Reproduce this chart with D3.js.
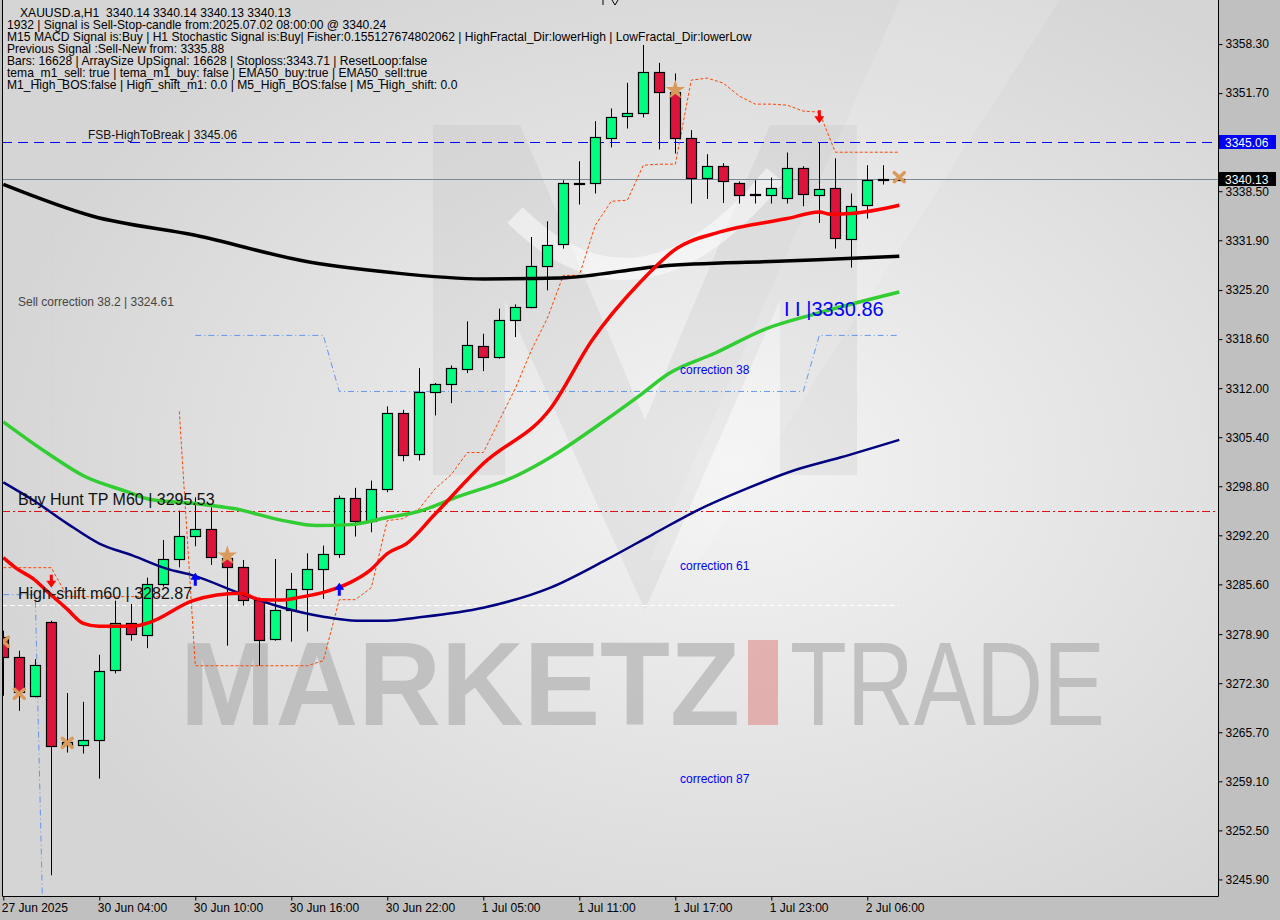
<!DOCTYPE html>
<html>
<head>
<meta charset="utf-8">
<script src="https://cdnjs.cloudflare.com/ajax/libs/d3/7.8.5/d3.min.js"></script>
<style>
  html, body { margin: 0; padding: 0; background: #c0c0c0; }
  svg { display: block; }
  text { font-family: "Liberation Sans", Arial, sans-serif; }
</style>
</head>
<body>
<svg id="chart" width="1280" height="920"></svg>
<script>
// XAUUSD.a H1
var barOpen = [3278.46,3275.77,3270.57,3280.54,3264.01,3263.97,3264.64,3274.07,3280.41,3278.78,
  3285.66,3289.02,3292.12,3293.07,3289.16,3287.99,3283.50,3278.25,3282.15,3284.98,
  3287.68,3289.70,3297.24,3294.18,3298.45,3308.69,3303.17,3311.56,3312.60,3314.62,
  3317.72,3316.23,3321.22,3322.97,3328.49,3331.32,3339.54,3339.54,3345.73,3348.51,
  3348.97,3354.49,3351.79,3345.60,3340.16,3341.83,3339.67,3338.10,3338.06,3337.52,
  3341.56,3338.06,3338.99,3332.13,3336.57,3340.05,3340.14];
var barHigh = [3279.37,3276.67,3275.55,3280.71,3270.98,3269.80,3276.13,3283.41,3282.96,3286.51,
  3291.58,3295.53,3297.32,3295.98,3290.41,3288.88,3283.81,3289.02,3287.14,3289.78,
  3290.82,3297.55,3298.59,3299.57,3309.54,3309.09,3314.70,3312.70,3315.06,3320.99,
  3319.33,3322.70,3323.28,3332.34,3334.46,3339.98,3342.54,3347.93,3349.64,3353.09,
  3358.17,3355.78,3354.35,3346.72,3343.48,3342.27,3339.81,3339.98,3340.34,3343.71,
  3341.87,3345.06,3342.94,3338.19,3342.00,3342.00,3340.14];
var barLow = [3270.61,3268.59,3270.39,3246.46,3262.97,3262.84,3259.47,3273.62,3278.02,3277.01,
  3285.30,3287.89,3290.72,3288.21,3277.35,3282.73,3274.65,3278.02,3277.89,3279.27,
  3283.64,3289.16,3292.03,3292.61,3298.00,3302.17,3302.27,3308.33,3309.98,3314.02,
  3314.29,3315.96,3318.87,3322.74,3325.16,3330.78,3336.71,3338.19,3344.39,3346.94,
  3348.43,3344.12,3343.58,3336.84,3337.46,3336.92,3336.84,3336.84,3336.84,3336.84,
  3336.48,3334.23,3330.78,3328.22,3334.82,3339.40,3340.13];
var barClose = [3275.77,3271.01,3274.75,3263.84,3264.42,3264.64,3273.94,3280.41,3278.92,3285.66,
  3289.02,3292.12,3293.07,3289.33,3287.99,3283.50,3278.11,3282.15,3284.98,3287.68,
  3289.70,3297.24,3294.09,3298.45,3308.69,3303.03,3311.47,3312.60,3314.75,3317.85,
  3316.23,3321.22,3322.97,3328.49,3331.32,3339.54,3339.44,3345.73,3348.51,3348.97,
  3354.49,3351.79,3345.60,3340.21,3341.83,3339.81,3338.06,3338.00,3338.99,3341.56,
  3338.06,3338.86,3332.26,3336.57,3340.00,3340.14,3340.13];

var xTickIdx = [0, 6, 12, 18, 24, 30, 36, 42, 48, 54];
var xTickLabels = ["27 Jun 2025", "30 Jun 04:00", "30 Jun 10:00", "30 Jun 16:00", "30 Jun 22:00",
  "1 Jul 05:00", "1 Jul 11:00", "1 Jul 17:00", "1 Jul 23:00", "2 Jul 06:00"];
var yTickValues = [3358.30, 3351.70, 3338.50, 3331.90, 3325.20, 3318.60, 3312.00, 3305.40, 3298.80,
  3292.20, 3285.60, 3278.90, 3272.30, 3265.70, 3259.10, 3252.50, 3245.90];

// moving averages, [bar, price]
var maBlack = [[0,3339.42],[5.6,3335.13],[12,3332.57],[19.2,3328.94],[24.1,3327.59],[30,3326.70],
  [34.8,3326.83],[41.1,3328.42],[48.4,3329.07],[56,3329.74]];
var maRed = [[0,3289.2],[0.84,3287.72],[1.86,3286.37],[2.9,3284.35],[3.96,3282.33],[5,3280.35],
  [6,3279.95],[7.1,3279.95],[8.1,3279.95],[9.2,3280.52],[11.9,3283.44],[14.8,3284.39],[16.1,3283.54],
  [17.5,3283.50],[18.5,3283.85],[20,3284.53],[21.7,3285.87],[22.9,3287.45],[24,3289.74],[25.2,3291.09],
  [26.9,3294.86],[30,3301.86],[34.2,3309.27],[36.8,3318.46],[39.7,3326.01],[42.1,3330.82],
  [44.8,3333.02],[49,3334.82],[51,3335.71],[51.7,3335.40],[53,3335.50],[56,3336.61]];
var maGreen = [[0,3307.47],[2.7,3303.34],[5.1,3300.11],[7.6,3298.18],[9.2,3297.01],[12,3296.47],
  [14.4,3295.80],[17.5,3294.18],[19.6,3293.51],[21.7,3293.64],[24,3294.59],[26,3295.44],[28.1,3297.15],
  [32.1,3300.25],[34.2,3302.71],[36.8,3306.44],[39.7,3310.89],[41.6,3313.98],[44.5,3316.73],
  [47.7,3320.01],[50.8,3322.03],[56,3324.94]];
var maNavy = [[0,3299.34],[1.9,3296.88],[4,3293.78],[6,3291.09],[8.1,3289.47],[10.2,3287.72],
  [11.9,3286.78],[15,3284.22],[17.5,3282.46],[20,3281.25],[22.1,3280.71],[24,3280.71],[25.8,3281.12],
  [30,3282.46],[34.2,3285.16],[37.7,3288.93],[40.6,3292.34],[43.6,3295.80],[46.5,3298.52],
  [49.4,3300.92],[52.3,3302.67],[56,3305.05]];

// trailing stop (orange dashed), one value per bar, null = no value
var stopLine = [3287.85,3287.85,3287.85,3287.85,3283.95,3283.95,3283.95,3283.95,3283.95,3283.95,
  3283.95,3308.87,3274.65,3274.65,3274.65,3274.65,3274.65,3274.65,3274.65,3274.65,
  3275.33,3283.54,3283.54,3285.16,3294.18,3294.45,3295.80,3298.49,3300.38,3303.34,
  3303.34,3307.65,3311.96,3317.08,3321.39,3327.18,3327.18,3333.92,3337.15,3337.29,
  3342.00,3342.14,3342.14,3353.45,3353.72,3353.05,3351.30,3350.22,3350.22,3350.08,
  3349.28,3349.14,3343.75,3343.75,3343.75,3343.75,3343.75];
var stopBreak = 11;   // the line restarts at this bar
// correction band (blue dash-dot)
var corrLine = [3284.22,3284.22,3284.22,3191.80,null,null,null,null,null,null,
  null,null,3319.10,3319.10,3319.10,3319.10,3319.10,3319.10,3319.10,3319.10,
  3319.10,3311.56,3311.56,3311.56,3311.56,3311.56,3311.56,3311.56,3311.56,3311.56,
  3311.56,3311.56,3311.56,3311.56,3311.56,3311.56,3311.56,3311.56,3311.56,3311.56,
  3311.56,3311.56,3311.56,3311.56,3311.56,3311.56,3311.56,3311.56,3311.56,3311.56,
  3311.56,3319.10,3319.10,3319.10,3319.10,3319.10,3319.10];

var starMarks = [[14, 3289.47], [42, 3352.10]];
var crossMarks = [[0, 3277.89], [1, 3270.88], [4, 3264.28], [56, 3340.39]];
var sellArrows = [[3, 3285.97], [51, 3348.47]];
var buyArrows = [[12, 3286.37], [21, 3285.02]];

var fsbLevel = 3345.06, bidLevel = 3340.13, buyHuntLevel = 3295.53, highShiftLevel = 3282.87;

var headerLines = [
  "XAUUSD.a,H1  3340.14 3340.14 3340.13 3340.13",
  "1932 | Signal is Sell-Stop-candle from:2025.07.02 08:00:00 @ 3340.24",
  "M15 MACD Signal is:Buy | H1 Stochastic Signal is:Buy| Fisher:0.155127674802062 | HighFractal_Dir:lowerHigh | LowFractal_Dir:lowerLow",
  "Previous Signal :Sell-New from: 3335.88",
  "Bars: 16628 | ArraySize UpSignal: 16628 | Stoploss:3343.71 | ResetLoop:false",
  "tema_m1_sell: true | tema_m1_buy: false | EMA50_buy:true | EMA50_sell:true",
  "M1_High_BOS:false | High_shift_m1: 0.0 | M5_High_BOS:false | M5_High_shift: 0.0"
];

var W = 1280, H = 920;
var plotL = 2, plotR = 1218, plotB = 896;

var svg = d3.select("#chart");

var x = d3.scaleLinear().domain([0, 56]).range([3.3, 899.3]);
var y = d3.scaleLinear().domain([3243.67, 3364.23]).range([plotB, 0]);

var defs = svg.append("defs");
var grad = defs.append("radialGradient").attr("id", "bg")
  .attr("cx", "60%").attr("cy", "52%").attr("r", "62%");
grad.append("stop").attr("offset", "0%").attr("stop-color", "#f4f4f4");
grad.append("stop").attr("offset", "100%").attr("stop-color", "#d5d5d5");
defs.append("clipPath").attr("id", "plotClip")
  .append("rect").attr("x", plotL).attr("y", 0).attr("width", plotR - plotL).attr("height", plotB);

// axis area + plot background
svg.append("rect").attr("width", W).attr("height", H).attr("fill", "#c0c0c0");
svg.append("rect").attr("x", plotL).attr("y", 0).attr("width", plotR - plotL).attr("height", plotB)
  .attr("fill", "url(#bg)");

var plot = svg.append("g").attr("clip-path", "url(#plotClip)");

// ---- watermark ----
var wm = plot.append("g").attr("class", "watermark");
wm.append("path")
  .attr("d", "M433,125 L520,125 L645,420 L645,610 L505,300 L505,475 L433,475 Z")
  .attr("fill", "#a8a8a8").attr("opacity", 0.16);
wm.append("path")
  .attr("d", "M857,125 L770,125 L645,420 L645,610 L780,300 L780,475 L857,475 Z")
  .attr("fill", "#a8a8a8").attr("opacity", 0.16);
wm.append("path")
  .attr("d", "M515,215 Q640,340 775,175")
  .attr("fill", "none").attr("stroke", "#ffffff").attr("stroke-width", 22).attr("opacity", 0.5);
wm.append("path")
  .attr("d", "M900,0 L1060,0 L700,560 L650,560 Z")
  .attr("fill", "#ffffff").attr("opacity", 0.14);
wm.append("text").attr("x", 180).attr("y", 725)
  .attr("font-size", 118).attr("font-weight", "bold")
  .attr("textLength", 560).attr("lengthAdjust", "spacingAndGlyphs")
  .attr("fill", "#b4b4b4").attr("opacity", 0.72).text("MARKETZ");
wm.append("rect").attr("x", 748).attr("y", 640).attr("width", 30).attr("height", 85)
  .attr("fill", "#e08a8a").attr("opacity", 0.6);
wm.append("text").attr("x", 790).attr("y", 725)
  .attr("font-size", 118).attr("font-family", "Roboto").attr("font-weight", 300)
  .attr("textLength", 315).attr("lengthAdjust", "spacingAndGlyphs")
  .attr("fill", "#b4b4b4").attr("opacity", 0.75).text("TRADE");

// ---- horizontal levels ----
plot.append("line").attr("x1", plotL).attr("x2", plotR)
  .attr("y1", Math.round(y(fsbLevel)) + 0.5).attr("y2", Math.round(y(fsbLevel)) + 0.5)
  .attr("stroke", "#0000ff").attr("stroke-dasharray", "10,6");
plot.append("line").attr("x1", plotL).attr("x2", plotR)
  .attr("y1", Math.round(y(bidLevel)) + 0.5).attr("y2", Math.round(y(bidLevel)) + 0.5)
  .attr("stroke", "#778899");
plot.append("line").attr("x1", plotL).attr("x2", plotR)
  .attr("y1", Math.round(y(buyHuntLevel)) + 0.5).attr("y2", Math.round(y(buyHuntLevel)) + 0.5)
  .attr("stroke", "#e01010").attr("stroke-dasharray", "8,3,2,3");
plot.append("line").attr("x1", plotL).attr("x2", x(56))
  .attr("y1", Math.round(y(highShiftLevel)) + 0.5).attr("y2", Math.round(y(highShiftLevel)) + 0.5)
  .attr("stroke", "#ffffff").attr("stroke-dasharray", "5,3");

// vertical marker line
plot.append("line").attr("x1", Math.round(x(3)) + 0.5).attr("x2", Math.round(x(3)) + 0.5)
  .attr("y1", 0).attr("y2", plotB)
  .attr("stroke", "#a8e4ec").attr("stroke-dasharray", "6,3,1,3");

// ---- step lines ----
var barLine = d3.line()
  .defined(function(d) { return d != null; })
  .x(function(d, i) { return x(i); })
  .y(function(d) { return y(d); });

plot.append("path").datum(corrLine)
  .attr("d", barLine).attr("fill", "none")
  .attr("stroke", "#6495ed").attr("stroke-dasharray", "6,3,1,3");
// orange stop line in two pieces (break before stopBreak)
plot.append("path")
  .datum(stopLine.map(function(v, i) { return i < stopBreak ? v : null; }))
  .attr("d", barLine).attr("fill", "none")
  .attr("stroke", "#ff4500").attr("stroke-dasharray", "3,2");
plot.append("path")
  .datum(stopLine.map(function(v, i) { return i >= stopBreak ? v : null; }))
  .attr("d", barLine).attr("fill", "none")
  .attr("stroke", "#ff4500").attr("stroke-dasharray", "3,2");

// ---- candles ----
var idx = d3.range(barOpen.length);
var candles = plot.append("g").selectAll("g")
  .data(idx).enter().append("g");
candles.append("line")
  .attr("x1", function(i) { return Math.round(x(i)) + 0.5; })
  .attr("x2", function(i) { return Math.round(x(i)) + 0.5; })
  .attr("y1", function(i) { return y(barHigh[i]); })
  .attr("y2", function(i) { return y(barLow[i]); })
  .attr("stroke", "#000");
candles.append("rect")
  .attr("x", function(i) { return Math.round(x(i)) - 4.5; })
  .attr("width", 10)
  .attr("y", function(i) { return Math.round(y(Math.max(barOpen[i], barClose[i]))) + 0.5; })
  .attr("height", function(i) {
    return Math.max(1, Math.round(Math.abs(y(barOpen[i]) - y(barClose[i]))));
  })
  .attr("fill", function(i) { return barClose[i] >= barOpen[i] ? "#00ff7f" : "#dc143c"; })
  .attr("stroke", "#000").attr("stroke-width", 1.2);

// ---- moving averages ----
var maLine = d3.line()
  .x(function(d) { return x(d[0]); })
  .y(function(d) { return y(d[1]); })
  .curve(d3.curveMonotoneX);
var maDefs = [
  { data: maNavy, color: "#000080", width: 2.5 },
  { data: maGreen, color: "#32cd32", width: 3.5 },
  { data: maBlack, color: "#000000", width: 3.5 },
  { data: maRed, color: "#ff0000", width: 3.5 }
];
maDefs.forEach(function(m) {
  plot.append("path").datum(m.data)
    .attr("d", maLine).attr("fill", "none")
    .attr("stroke", m.color).attr("stroke-width", m.width)
    .attr("stroke-linejoin", "round");
});

// ---- markers ----
var tan = "#d99a5b";
plot.selectAll(".star").data(starMarks).enter().append("path")
  .attr("class", "star")
  .attr("d", d3.symbol().type(d3.symbolStar).size(120))
  .attr("transform", function(d) { return "translate(" + x(d[0]) + "," + y(d[1]) + ")"; })
  .attr("fill", tan);
plot.selectAll(".cross").data(crossMarks).enter().append("path")
  .attr("class", "cross")
  .attr("d", "M-5,-4.5L5,4.5M5,-4.5L-5,4.5")
  .attr("transform", function(d) { return "translate(" + x(d[0]) + "," + y(d[1]) + ")"; })
  .attr("stroke", tan).attr("stroke-width", 3.5).attr("stroke-linecap", "round");
plot.selectAll(".sell").data(sellArrows).enter().append("path")
  .attr("class", "sell")
  .attr("d", "M-1.5,-7h3v6h3.5l-5,7l-5,-7h3.5z")
  .attr("transform", function(d) { return "translate(" + x(d[0]) + "," + y(d[1]) + ")"; })
  .attr("fill", "#ff0000");
plot.selectAll(".buy").data(buyArrows).enter().append("path")
  .attr("class", "buy")
  .attr("d", "M-1.5,7h3v-6h3.5l-5,-7l-5,7h3.5z")
  .attr("transform", function(d) { return "translate(" + x(d[0]) + "," + y(d[1]) + ")"; })
  .attr("fill", "#0000ff");

// ---- chart labels ----
var labels = plot.append("g");
labels.append("text").attr("x", 88).attr("y", y(fsbLevel) - 3)
  .attr("font-size", 12).attr("fill", "#111").text("FSB-HighToBreak | " + fsbLevel.toFixed(2));
labels.append("text").attr("x", 18).attr("y", 306)
  .attr("font-size", 12).attr("fill", "#444").text("Sell correction 38.2 | 3324.61");
labels.append("text").attr("x", 18).attr("y", y(buyHuntLevel) - 6)
  .attr("font-size", 16).attr("fill", "#111").text("Buy Hunt TP M60 | " + buyHuntLevel.toFixed(2));
labels.append("text").attr("x", 18).attr("y", y(highShiftLevel) - 6)
  .attr("font-size", 16).attr("fill", "#111").text("High-shift m60 | " + highShiftLevel.toFixed(2));
labels.append("text").attr("x", 784).attr("y", 316)
  .attr("font-size", 20).attr("fill", "#0000ff").style("white-space", "pre").text("I I |3330.86");
["correction 38", "correction 61", "correction 87"].forEach(function(t, k) {
  labels.append("text").attr("x", 680).attr("y", [374, 570, 783][k])
    .attr("font-size", 12).attr("fill", "#0000ff").text(t);
});

// header block
svg.append("g").selectAll("text").data(headerLines).enter().append("text")
  .attr("x", function(d, i) { return i == 0 ? 20 : 7; })
  .attr("y", function(d, i) { return 17 + i * 12; })
  .attr("font-size", 12.1).attr("fill", "#000")
  .style("white-space", "pre")
  .text(function(d) { return d; });
// clipped glyph at the top edge
svg.append("path").attr("d", "M603,0V5M612,0L615,5L618,0").attr("stroke", "#000").attr("fill", "none");

// ---- frame ----
svg.append("path")
  .attr("d", "M" + (plotL + 0.5) + ",0V" + (plotB + 0.5) + "H" + (plotR + 0.5) + "V0")
  .attr("fill", "none").attr("stroke", "#000");

// ---- axes ----
var yAxis = svg.append("g").attr("transform", "translate(" + (plotR + 0.5) + ",0)")
  .call(d3.axisRight(y).tickValues(yTickValues).tickFormat(d3.format(".2f")).tickSize(4).tickPadding(3));
yAxis.select(".domain").remove();
yAxis.selectAll("text").attr("font-size", 12).attr("fill", "#000").attr("font-family", "Liberation Sans");
yAxis.selectAll("line").attr("stroke", "#000");

var xAxis = svg.append("g").attr("transform", "translate(0," + (plotB + 0.5) + ")")
  .call(d3.axisBottom(x).tickValues(xTickIdx)
    .tickFormat(function(d, i) { return xTickLabels[i]; }).tickSize(4).tickPadding(3));
xAxis.select(".domain").remove();
xAxis.selectAll("text").attr("text-anchor", "start").attr("dx", -2)
  .attr("font-size", 12).attr("fill", "#000").attr("font-family", "Liberation Sans");
xAxis.selectAll("line").attr("stroke", "#000");

// price tags
[[fsbLevel, "#0000ff"], [bidLevel, "#000000"]].forEach(function(t) {
  var yy = Math.round(y(t[0]));
  svg.append("rect").attr("x", plotR + 1).attr("y", yy - 7).attr("width", 57).attr("height", 14)
    .attr("fill", t[1]);
  svg.append("text").attr("x", plotR + 7).attr("y", yy + 4.5)
    .attr("font-size", 12).attr("fill", "#fff").text(t[0].toFixed(2));
});
</script>
</body>
</html>
